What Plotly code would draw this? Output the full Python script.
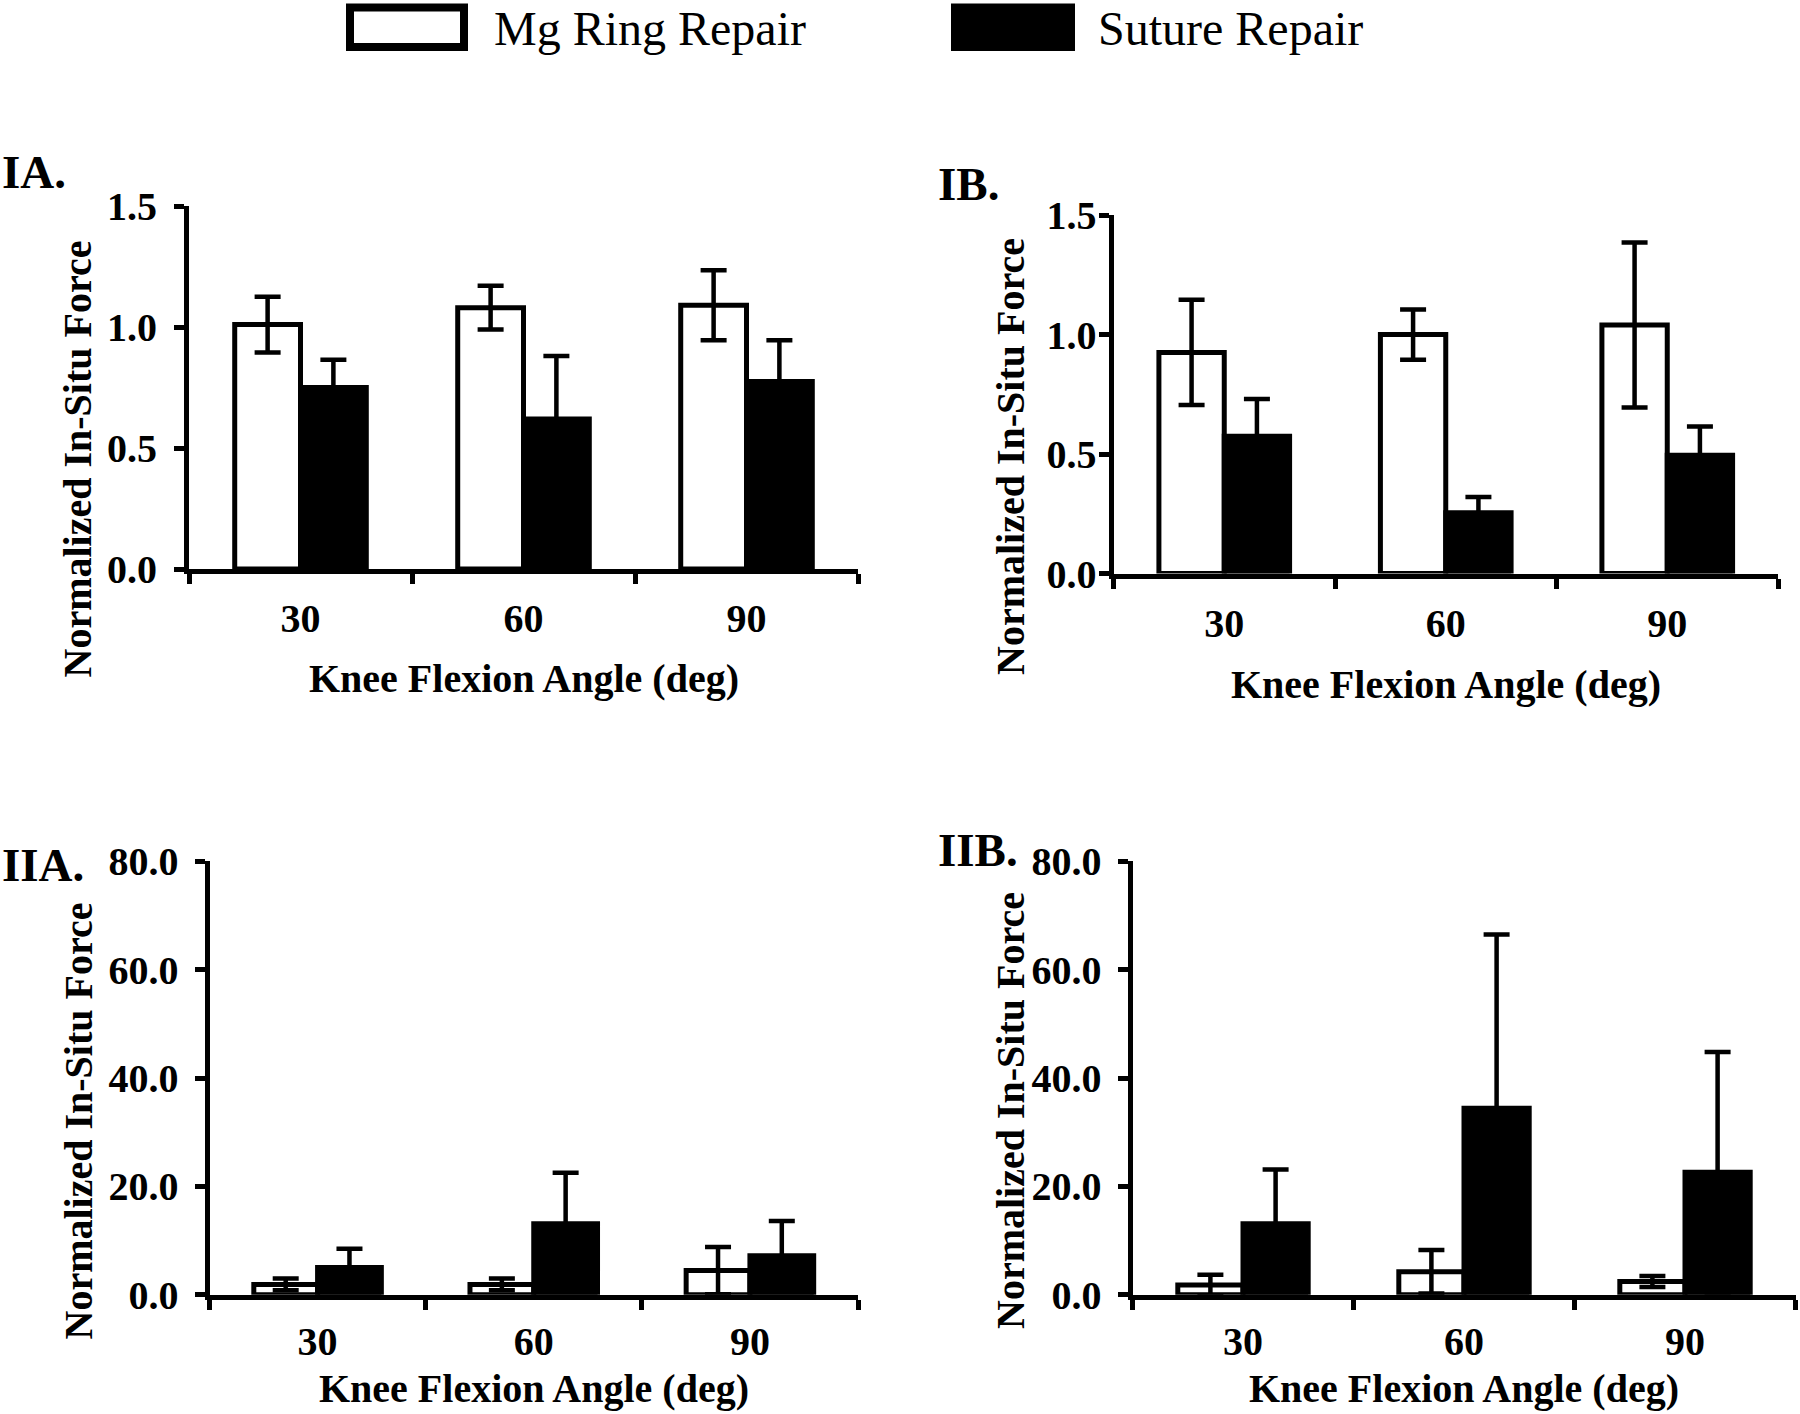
import plotly.graph_objects as go

W, H = 1800, 1414

angles = ["30", "60", "90"]

# Panel IA
ia_mg = [1.01, 1.08, 1.09]
ia_mg_err = [0.115, 0.09, 0.145]
ia_su = [0.75, 0.62, 0.775]
ia_su_err = [0.115, 0.26, 0.17]

# Panel IB
ib_mg = [0.925, 1.00, 1.04]
ib_mg_err = [0.22, 0.105, 0.345]
ib_su = [0.575, 0.255, 0.495]
ib_su_err = [0.155, 0.065, 0.12]

# Panel IIA
iia_mg = [1.9, 1.9, 4.45]
iia_mg_err = [1.1, 1.1, 4.35]
iia_su = [5.0, 13.1, 7.2]
iia_su_err = [3.5, 9.4, 6.4]

# Panel IIB
iib_mg = [1.8, 4.24, 2.44]
iib_mg_err = [1.9, 4.0, 1.0]
iib_su = [13.1, 34.4, 22.6]
iib_su_err = [10.0, 32.1, 22.2]

y1_ticks = [0.0, 0.5, 1.0, 1.5]
y2_ticks = [0.0, 20.0, 40.0, 60.0, 80.0]

panel_labels = ["IA.", "IB.", "IIA.", "IIB."]
legend_names = ["Mg Ring Repair", "Suture Repair"]
x_title = "Knee Flexion Angle (deg)"
y_title = "Normalized In-Situ Force"

FONT = "Liberation Serif"


def px(x):
    return x / W


def py(y):
    return 1 - y / H


# pixel geometry of each panel: (x_left, x_right, y_top, y_bottom)
panels = [
    dict(mg=ia_mg, mge=ia_mg_err, su=ia_su, sue=ia_su_err, box=(189, 858, 206, 569),
         rng=[0, 1.5], ticks=y1_ticks, fmt=".1f", ystand=9, xstand=10),
    dict(mg=ib_mg, mge=ib_mg_err, su=ib_su, sue=ib_su_err, box=(1113.5, 1778, 215, 573.6),
         rng=[0, 1.5], ticks=y1_ticks, fmt=".1f", ystand=-6, xstand=10),
    dict(mg=iia_mg, mge=iia_mg_err, su=iia_su, sue=iia_su_err, box=(209.5, 858, 861.3, 1294.7),
         rng=[0, 80], ticks=y2_ticks, fmt=".1f", ystand=8, xstand=7),
    dict(mg=iib_mg, mge=iib_mg_err, su=iib_su, sue=iib_su_err, box=(1132.5, 1795.5, 861.3, 1294.7),
         rng=[0, 80], ticks=y2_ticks, fmt=".1f", ystand=8, xstand=7),
]

fig = go.Figure()
layout = {}
LW = 5

for i, p in enumerate(panels, start=1):
    xa = "x" if i == 1 else f"x{i}"
    ya = "y" if i == 1 else f"y{i}"
    for name, vals, errs, fill in [(legend_names[0], p["mg"], p["mge"], "white"),
                                   (legend_names[1], p["su"], p["sue"], "black")]:
        fig.add_trace(go.Bar(
            x=angles, y=vals, name=name, xaxis=xa, yaxis=ya,
            marker=dict(color=fill, line=dict(color="black", width=LW)),
            error_y=dict(type="data", array=errs, visible=True, color="black",
                         thickness=4.5, width=13),
            showlegend=False,
        ))
    x0, x1, yt, yb = p["box"]
    xkey = "xaxis" if i == 1 else f"xaxis{i}"
    ykey = "yaxis" if i == 1 else f"yaxis{i}"
    layout[xkey] = dict(
        domain=[px(x0), px(x1)], anchor=ya, type="category",
        range=[-0.5, 2.5], showline=True, linecolor="black", linewidth=LW,
        ticks="outside", tickson="boundaries", ticklen=10, tickwidth=LW, tickcolor="black",
        showgrid=False, zeroline=False, automargin=False,
        tickfont=dict(family=FONT, size=40, color="black", weight="bold"),
        ticklabelstandoff=p["xstand"],
    )
    layout[ykey] = dict(
        domain=[py(yb), py(yt)], anchor=xa, range=p["rng"],
        tickvals=p["ticks"], tickformat=p["fmt"],
        showline=True, linecolor="black", linewidth=LW,
        ticks="outside", ticklen=10, tickwidth=LW, tickcolor="black",
        showgrid=False, zeroline=False, automargin=False,
        tickfont=dict(family=FONT, size=40, color="black", weight="bold"),
        ticklabelstandoff=p["ystand"],
    )

annotations = []
# x titles: (center x px, cap-center y px)
xt_pos = [(523.5, 678), (1445.7, 684), (533.7, 1388), (1464, 1388)]
for (cx, cy) in xt_pos:
    annotations.append(dict(text=x_title, x=px(cx), y=py(cy), xref="paper", yref="paper",
                            xanchor="center", yanchor="middle", showarrow=False,
                            font=dict(family=FONT, size=40, color="black", weight="bold")))
# y titles
yt_pos = [(77.5, 459), (1010, 457), (77.5, 1121), (1010, 1111)]
for (cx, cy) in yt_pos:
    annotations.append(dict(text=y_title, x=px(cx), y=py(cy), xref="paper", yref="paper",
                            xanchor="center", yanchor="middle", textangle=-90, showarrow=False,
                            font=dict(family=FONT, size=40, color="black", weight="bold")))
# panel labels
pl_pos = [(0, 172), (936, 184), (0, 865), (936, 850)]
for lab, (lx, ly) in zip(panel_labels, pl_pos):
    annotations.append(dict(text=lab, x=px(lx), y=py(ly), xref="paper", yref="paper",
                            xanchor="left", yanchor="middle", showarrow=False,
                            font=dict(family=FONT, size=47, color="black", weight="bold")))
# legend texts
annotations.append(dict(text=legend_names[0], x=px(492), y=py(28), xref="paper", yref="paper",
                        xanchor="left", yanchor="middle", showarrow=False,
                        font=dict(family=FONT, size=48, color="black")))
annotations.append(dict(text=legend_names[1], x=px(1096), y=py(28), xref="paper", yref="paper",
                        xanchor="left", yanchor="middle", showarrow=False,
                        font=dict(family=FONT, size=48, color="black")))

shapes = [
    dict(type="rect", xref="paper", yref="paper", x0=px(350), x1=px(464), y0=py(47), y1=py(7.5),
         line=dict(color="black", width=8), fillcolor="white"),
    dict(type="rect", xref="paper", yref="paper", x0=px(955), x1=px(1071), y0=py(47), y1=py(7.5),
         line=dict(color="black", width=8), fillcolor="black"),
]

fig.update_layout(
    width=W, height=H, autosize=False, margin=dict(l=0, r=0, t=0, b=0, pad=0),
    paper_bgcolor="white", plot_bgcolor="white",
    barmode="group", bargap=0.41, bargroupgap=0,
    annotations=annotations, shapes=shapes,
    **layout,
)

fig.write_html(
    "out.html",
    config={"responsive": False, "displayModeBar": False},
    post_script="document.body.style.margin='0';document.body.style.overflow='hidden';",
)
